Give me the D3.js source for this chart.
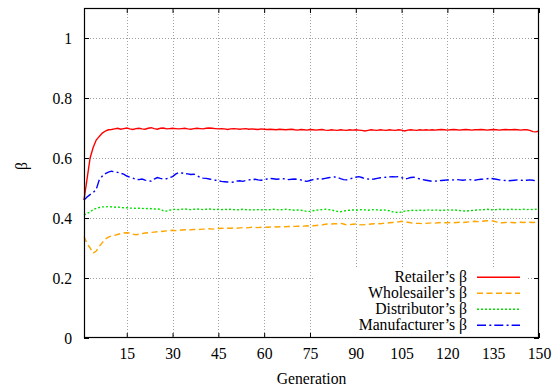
<!DOCTYPE html>
<html><head><meta charset="utf-8">
<script src="https://cdnjs.cloudflare.com/ajax/libs/d3/7.8.5/d3.min.js"></script>
<style>body{margin:0;background:#fff}</style>
</head><body><svg id="c" width="559" height="388"></svg>
<script>
const xTicks = [15,30,45,60,75,90,105,120,135,150];
const yTicks = [0,0.2,0.4,0.6,0.8,1];
const seriesNames = ["Retailer\u2019s \u03B2","Wholesailer\u2019s \u03B2","Distributor\u2019s \u03B2","Manufacturer\u2019s \u03B2"];
const retailer = [0.460,0.530,0.600,0.635,0.660,0.672,0.683,0.690,0.694,0.695,
0.697,0.699,0.696,0.698,0.700,0.697,0.695,0.698,0.699,0.697,
0.696,0.699,0.701,0.698,0.696,0.699,0.700,0.697,0.698,0.699,
0.698,0.697,0.698,0.699,0.697,0.696,0.698,0.699,0.698,0.697,
0.699,0.700,0.699,0.698,0.697,0.698,0.697,0.695,0.697,0.698,
0.697,0.696,0.697,0.698,0.696,0.697,0.696,0.695,0.697,0.696,
0.695,0.696,0.695,0.694,0.696,0.695,0.694,0.695,0.696,0.694,
0.693,0.695,0.694,0.693,0.695,0.694,0.693,0.694,0.695,0.693,
0.692,0.694,0.693,0.692,0.694,0.693,0.692,0.694,0.693,0.694,
0.693,0.692,0.690,0.692,0.694,0.693,0.692,0.694,0.693,0.692,
0.694,0.693,0.692,0.694,0.693,0.690,0.693,0.694,0.693,0.692,
0.694,0.693,0.694,0.693,0.694,0.693,0.694,0.695,0.694,0.693,
0.694,0.695,0.694,0.693,0.694,0.695,0.694,0.693,0.694,0.694,
0.695,0.694,0.693,0.694,0.695,0.694,0.693,0.694,0.695,0.694,
0.694,0.695,0.694,0.693,0.694,0.694,0.692,0.688,0.687,0.690];
const wholesaler = [0.338,0.315,0.300,0.283,0.290,0.305,0.318,0.330,0.336,0.340,
0.342,0.345,0.348,0.350,0.351,0.350,0.346,0.344,0.346,0.348,
0.350,0.351,0.352,0.353,0.354,0.355,0.356,0.357,0.358,0.359,
0.358,0.359,0.360,0.361,0.360,0.361,0.362,0.361,0.362,0.363,
0.363,0.364,0.363,0.364,0.365,0.366,0.365,0.366,0.366,0.367,
0.366,0.367,0.368,0.367,0.368,0.369,0.369,0.368,0.369,0.370,
0.369,0.370,0.371,0.370,0.371,0.370,0.371,0.372,0.371,0.372,
0.373,0.372,0.373,0.374,0.373,0.374,0.375,0.376,0.377,0.379,
0.380,0.380,0.381,0.381,0.382,0.380,0.377,0.378,0.379,0.380,
0.378,0.377,0.378,0.379,0.380,0.381,0.382,0.381,0.382,0.383,
0.384,0.385,0.386,0.387,0.389,0.388,0.386,0.384,0.383,0.382,
0.382,0.381,0.382,0.383,0.384,0.383,0.384,0.385,0.384,0.384,
0.385,0.384,0.385,0.386,0.385,0.386,0.387,0.388,0.389,0.388,
0.389,0.390,0.391,0.391,0.390,0.387,0.384,0.384,0.385,0.386,
0.385,0.384,0.385,0.386,0.385,0.386,0.386,0.385,0.386,0.386];
const distributor = [0.410,0.415,0.420,0.428,0.432,0.435,0.437,0.437,0.438,0.437,
0.436,0.437,0.435,0.434,0.434,0.433,0.433,0.432,0.433,0.432,
0.431,0.432,0.431,0.430,0.430,0.429,0.424,0.423,0.426,0.428,
0.429,0.428,0.429,0.430,0.429,0.428,0.429,0.430,0.429,0.428,
0.429,0.430,0.429,0.428,0.429,0.428,0.429,0.428,0.429,0.428,
0.427,0.428,0.429,0.428,0.427,0.428,0.427,0.428,0.427,0.428,
0.427,0.428,0.429,0.428,0.427,0.428,0.429,0.428,0.427,0.426,
0.427,0.426,0.424,0.422,0.422,0.424,0.426,0.427,0.428,0.429,
0.428,0.427,0.424,0.422,0.421,0.423,0.425,0.426,0.427,0.426,
0.427,0.428,0.427,0.426,0.427,0.428,0.427,0.426,0.427,0.426,
0.424,0.421,0.419,0.418,0.420,0.423,0.424,0.425,0.426,0.425,
0.426,0.425,0.426,0.427,0.426,0.427,0.426,0.425,0.426,0.427,
0.426,0.427,0.426,0.425,0.424,0.423,0.424,0.425,0.426,0.427,
0.427,0.428,0.429,0.428,0.427,0.428,0.429,0.428,0.429,0.428,
0.429,0.428,0.429,0.428,0.429,0.428,0.429,0.428,0.429,0.428];
const manufacturer = [0.460,0.470,0.478,0.485,0.495,0.527,0.540,0.548,0.553,0.556,
0.554,0.552,0.549,0.546,0.540,0.536,0.533,0.529,0.528,0.530,
0.526,0.524,0.523,0.530,0.535,0.532,0.530,0.531,0.534,0.538,
0.546,0.552,0.550,0.548,0.547,0.545,0.546,0.541,0.535,0.533,
0.532,0.530,0.528,0.526,0.524,0.522,0.521,0.520,0.519,0.520,
0.523,0.524,0.522,0.525,0.527,0.528,0.529,0.527,0.526,0.528,
0.530,0.532,0.531,0.529,0.530,0.531,0.530,0.528,0.529,0.530,
0.529,0.527,0.524,0.522,0.525,0.528,0.530,0.531,0.530,0.532,
0.534,0.536,0.537,0.535,0.531,0.528,0.527,0.530,0.533,0.536,
0.538,0.535,0.531,0.530,0.529,0.530,0.532,0.534,0.535,0.536,
0.537,0.538,0.537,0.538,0.535,0.530,0.532,0.535,0.536,0.533,
0.530,0.528,0.526,0.524,0.522,0.523,0.524,0.525,0.526,0.527,
0.526,0.527,0.528,0.527,0.526,0.527,0.528,0.527,0.526,0.528,
0.529,0.530,0.531,0.532,0.531,0.529,0.527,0.526,0.525,0.524,
0.525,0.526,0.527,0.526,0.525,0.526,0.527,0.526,0.524,0.523];

const L=84,R=539,T=8,B=338;
const FONT='"Liberation Serif"';
const svg=d3.select("#c");
const x=d3.scaleLinear().domain([1,150]).range([L,R]);
const y=d3.scaleLinear().domain([0,1.1]).range([B,T]);

// grid
const grid=svg.append("g").attr("stroke","#a0a0a0").attr("stroke-width",1).attr("stroke-dasharray","1,2");
xTicks.filter(t=>t<150).forEach(t=>{
  const xx=Math.round(x(t))+0.5;
  const bottom = xx>314 ? 269 : B;
  grid.append("line").attr("x1",xx).attr("x2",xx).attr("y1",T).attr("y2",bottom);
});
yTicks.filter(t=>t>0).forEach(t=>{
  const yy=Math.round(y(t))+0.5;
  if(t<0.3){
    grid.append("line").attr("x1",L).attr("x2",314).attr("y1",yy).attr("y2",yy);
    grid.append("line").attr("x1",528).attr("x2",R).attr("y1",yy).attr("y2",yy);
  } else grid.append("line").attr("x1",L).attr("x2",R).attr("y1",yy).attr("y2",yy);
});

// axes with inward ticks
const fs="15.7px";
const ax=svg.append("g").attr("transform",`translate(0,${B})`).call(d3.axisBottom(x).tickValues(xTicks).tickSizeInner(-5).tickSizeOuter(0).tickPadding(14));
const axT=svg.append("g").attr("transform",`translate(0,${T})`).call(d3.axisTop(x).tickValues(xTicks).tickSizeInner(-5).tickSizeOuter(0).tickFormat(""));
const ay=svg.append("g").attr("transform",`translate(${L},0)`).call(d3.axisLeft(y).tickValues(yTicks).tickSizeInner(-5).tickSizeOuter(0).tickPadding(12).tickFormat(d=>d3.format("~g")(d)));
const ayR=svg.append("g").attr("transform",`translate(${R},0)`).call(d3.axisRight(y).tickValues(yTicks).tickSizeInner(-5).tickSizeOuter(0).tickFormat(""));
[ax,axT,ay,ayR].forEach(g=>{g.select(".domain").remove();g.selectAll("line").attr("stroke","#000");g.selectAll("text").style("font-family",FONT).style("font-size",fs).attr("fill","#000");});
ax.selectAll("text").attr("dy","0.45em");

// legend background
svg.append("rect").attr("x",315).attr("y",270).attr("width",212).attr("height",67).attr("fill","#fff");

// series
const series=[retailer,wholesaler,distributor,manufacturer];
const colors=["#ff0000","#ffa500","#00e000","#0000ff"];
const dashes=[null,"6,3.5","2,2","9,3.3,2,3"];
const line=d3.line().x((d,i)=>x(i+1)).y(d=>y(d));
const pg=svg.append("g");
series.forEach((s,k)=>{
  pg.append("path").datum(s).attr("d",line).attr("fill","none").attr("stroke",colors[k]).attr("stroke-width",1.4).attr("stroke-dasharray",dashes[k]);
});

// legend
const lg=svg.append("g");
seriesNames.forEach((n,k)=>{
  const cy=277.3+k*16;
  lg.append("text").attr("x",467).attr("y",cy+5).attr("text-anchor","end").style("font-family",FONT).style("font-size",fs).text(n);
  lg.append("line").attr("x1",477).attr("x2",520).attr("y1",cy).attr("y2",cy).attr("stroke",colors[k]).attr("stroke-width",1.4).attr("stroke-dasharray",dashes[k]);
});

// frame
svg.append("rect").attr("x",L+0.5).attr("y",T+0.5).attr("width",R-L-1).attr("height",B-T-1).attr("fill","none").attr("stroke","#000").attr("stroke-width",1.2);

// axis titles
svg.append("text").attr("x",(L+R)/2).attr("y",384).attr("text-anchor","middle").style("font-family",FONT).style("font-size",fs).text("Generation");
svg.append("text").attr("transform","translate(27,166) rotate(-90)").attr("text-anchor","middle").style("font-family",FONT).style("font-size",fs).text("\u03B2");
</script></body></html>
